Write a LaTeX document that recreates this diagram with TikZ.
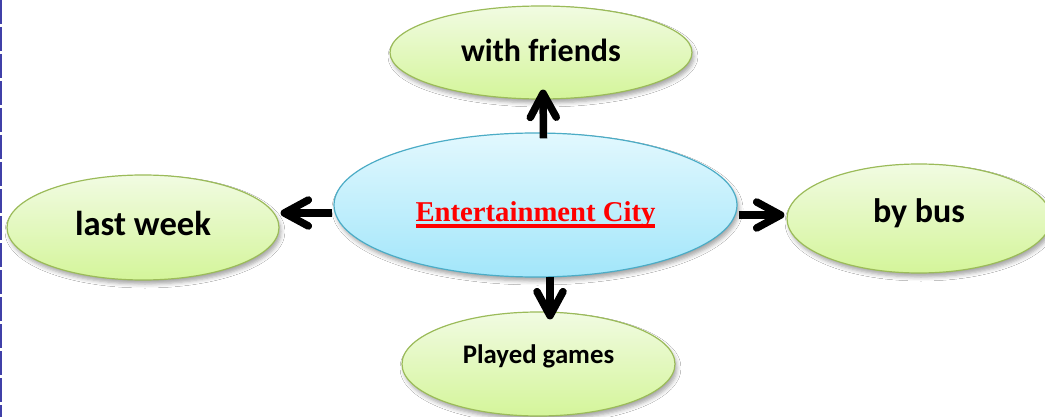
\documentclass[tikz,border=0pt]{standalone}
\usepackage{fontspec}
\setmainfont{Liberation Serif}
\newfontfamily\calib{Carlito}
\usetikzlibrary{arrows.meta,shapes.geometric,shadows.blur}

\definecolor{leafline}{HTML}{9BBB59}
\definecolor{leaftop}{HTML}{F1FBE2}
\definecolor{leafbot}{HTML}{D4F59A}
\definecolor{cityline}{HTML}{4BACC6}
\definecolor{citytop}{HTML}{E2F8FE}
\definecolor{citybot}{HTML}{A2E6FA}
\definecolor{edgeblue}{HTML}{4040A8}

\newcommand\redline[1]{\setbox0\hbox{#1}\rlap{\rule[-6pt]{\wd0}{3.7pt}}\box0}
\newcommand\lowerby[2]{\raisebox{-#1}[0pt][0pt]{#2}}

\tikzset{
  leaf/.style={ellipse, draw=leafline, line width=1.2pt, top color=leaftop, bottom color=leafbot,
    inner sep=0pt, font=\calib\bfseries,
    blur shadow={shadow xshift=2pt, shadow yshift=-4pt, shadow blur radius=4pt, shadow opacity=35}},
  link/.style={line width=7.5pt, -{Straight Barb[length=24pt,width=26pt,line cap=round,line join=round]}}
}

\begin{document}
\begin{tikzpicture}[x=1pt,y=-1pt]
\useasboundingbox (0,0) rectangle (1045,417);
\fill[white] (0,0) rectangle (1045,417);
\draw[edgeblue, line width=1.2pt, dash pattern=on 24pt off 3pt] (1,0) -- (1,417);

\node[leaf, minimum width=302pt, minimum height=93pt, font=\calib\bfseries\fontsize{32}{34}\selectfont] (friends) at (541,52.5) {\lowerby{9pt}{with friends}};
\node[leaf, minimum width=272pt, minimum height=105pt, font=\calib\bfseries\fontsize{34.6}{36}\selectfont] (week) at (143,227.5) {\lowerby{7.5pt}{last week}};
\node[leaf, minimum width=264pt, minimum height=109pt, font=\calib\bfseries\fontsize{34}{36}\selectfont] (bus) at (919,218.5) {\lowerby{4.5pt}{by bus}};
\node[leaf, minimum width=273pt, minimum height=104pt, font=\calib\bfseries\fontsize{26.8}{28}\selectfont] (games) at (538.5,364) {\lowerby{-1pt}{Played games}};
\node[ellipse, draw=cityline, line width=1.2pt, top color=citytop, bottom color=citybot, inner sep=0pt,
  minimum width=403pt, minimum height=144pt, text=red, font=\bfseries\fontsize{28.7}{30}\selectfont,
  blur shadow={shadow xshift=2pt, shadow yshift=-4pt, shadow blur radius=4pt, shadow opacity=35}]
  (city) at (535.5,205) {\lowerby{17pt}{\redline{Entertainment City}}};

\draw[link] ([xshift=8pt,yshift=-6pt]city.north) -- ([xshift=2pt,yshift=10pt]friends.south);
\draw[link] ([xshift=14.5pt,yshift=1pt]city.south) -- ([xshift=11.5pt,yshift=-8pt]games.north);
\draw[link] ([xshift=1pt,yshift=-10pt]city.east) -- ([xshift=-2pt,yshift=3.5pt]bus.west);
\draw[link] ([xshift=-1pt,yshift=-8pt]city.west) -- ([xshift=1pt,yshift=14.5pt]week.east);
\end{tikzpicture}
\end{document}
